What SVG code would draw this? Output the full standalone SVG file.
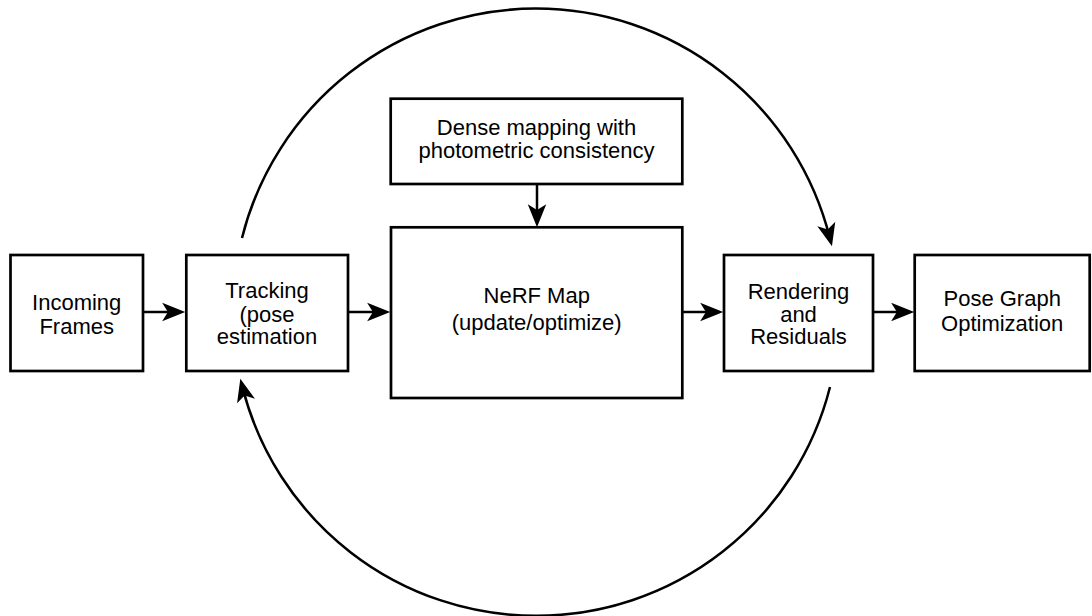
<svg xmlns="http://www.w3.org/2000/svg" width="1092" height="616" viewBox="0 0 1092 616">
<style>
.box{fill:#fff;stroke:#000;stroke-width:2.7}
.lbl{font-family:"Liberation Sans","DejaVu Sans",sans-serif;font-size:22px;fill:#000;text-anchor:middle}
.edge{fill:none;stroke:#000;stroke-width:2.5}
</style>
<defs>
<marker id="ah" markerUnits="userSpaceOnUse" markerWidth="30" markerHeight="30" viewBox="-14 -10 26 20" refX="0" refY="0" orient="auto" overflow="visible">
<path d="M8,0 L-12,-8 L-7,0 L-12,8 Z" fill="#000"/>
</marker>
</defs>
<rect width="1092" height="616" fill="#fff"/>
<g id="connectors">
<line class="edge" x1="144" y1="312" x2="176" y2="312" marker-end="url(#ah)"/>
<line class="edge" x1="348" y1="312" x2="381" y2="312" marker-end="url(#ah)"/>
<line class="edge" x1="683" y1="312" x2="714" y2="312" marker-end="url(#ah)"/>
<line class="edge" x1="873" y1="312" x2="905" y2="312" marker-end="url(#ah)"/>
<line class="edge" x1="537" y1="185" x2="537" y2="218" marker-end="url(#ah)"/>
<path class="edge" d="M242,238 A303,303 0 0 1 829.7,237.4" marker-end="url(#ah)"/>
<path class="edge" d="M830,387 A303,303 0 0 1 242.6,387.6" marker-end="url(#ah)"/>
</g>
<g id="incoming">
<rect class="box" x="10.5" y="255" width="132.5" height="116"/>
<text class="lbl" x="76.7" y="309.5">Incoming</text>
<text class="lbl" x="76.7" y="333.5">Frames</text>
</g>
<g id="tracking">
<rect class="box" x="186.3" y="255" width="161.7" height="116"/>
<text class="lbl" x="267" y="297.7">Tracking</text>
<text class="lbl" x="267" y="321.5">(pose</text>
<text class="lbl" x="267" y="344">estimation</text>
</g>
<g id="dense">
<rect class="box" x="390.7" y="98.7" width="291.6" height="85.3"/>
<text class="lbl" x="536.5" y="135">Dense mapping with</text>
<text class="lbl" x="536.5" y="158.3">photometric consistency</text>
</g>
<g id="nerf">
<rect class="box" x="391" y="227.3" width="291.3" height="170.7"/>
<text class="lbl" x="536.7" y="303">NeRF Map</text>
<text class="lbl" x="536.7" y="330">(update/optimize)</text>
</g>
<g id="rendering">
<rect class="box" x="724" y="255" width="149" height="116"/>
<text class="lbl" x="798.5" y="299.3">Rendering</text>
<text class="lbl" x="798.5" y="321.7">and</text>
<text class="lbl" x="798.5" y="344">Residuals</text>
</g>
<g id="posegraph">
<rect class="box" x="914.7" y="255" width="175" height="116"/>
<text class="lbl" x="1002.2" y="306">Pose Graph</text>
<text class="lbl" x="1002.2" y="330.7">Optimization</text>
</g>
</svg>
